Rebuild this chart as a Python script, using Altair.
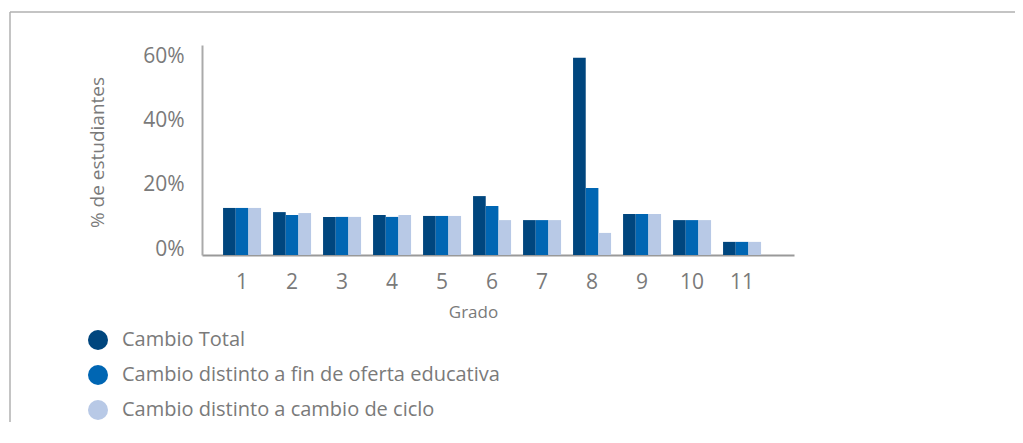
import altair as alt
import pandas as pd

grados = ["1", "2", "3", "4", "5", "6", "7", "8", "9", "10", "11"]
series = ["Cambio Total", "Cambio distinto a fin de oferta educativa", "Cambio distinto a cambio de ciclo"]
colores = ["#00467E", "#0066B3", "#B8C9E6"]
total = [14.7, 13.4, 11.9, 12.5, 12.2, 18.4, 10.9, 61.6, 12.8, 10.9, 4.1]
fin_oferta = [14.7, 12.5, 11.9, 11.9, 12.2, 15.3, 10.9, 20.9, 12.8, 10.9, 4.1]
cambio_ciclo = [14.7, 13.1, 11.9, 12.5, 12.2, 10.9, 10.9, 6.9, 12.8, 10.9, 4.1]

rows = []
for s, vals in zip(series, [total, fin_oferta, cambio_ciclo]):
    for g, v in zip(grados, vals):
        rows.append({"Grado": g, "Serie": s, "Valor": v / 100})
df = pd.DataFrame(rows)

FONT = "Open Sans"
GRAY = "#7a7a7a"

bars = alt.Chart(df).mark_bar().encode(
    x=alt.X("Grado:N", sort=grados,
            scale=alt.Scale(paddingInner=0.24, paddingOuter=0.54, align=0.39),
            axis=alt.Axis(title="Grado", labelAngle=0, ticks=False, tickSize=0,
                          labelFontSize=21, labelColor=GRAY, labelBaseline="middle",
                          labelPadding=27, labelFont=FONT,
                          domainColor="#999999", domainWidth=2,
                          titleFontSize=17, titleFontWeight="normal", titleColor=GRAY,
                          titleFont=FONT, titleX=271, titleY=57, titleAlign="center",
                          titleBaseline="middle")),
    xOffset=alt.XOffset("Serie:N", sort=series),
    y=alt.Y("Valor:Q",
            scale=alt.Scale(domain=[0, 0.656], nice=False),
            axis=alt.Axis(title="% de estudiantes", values=[0, 0.2, 0.4, 0.6], format=".0%",
                          ticks=False, tickSize=0, grid=False,
                          labelFontSize=21, labelColor=GRAY, labelPadding=18,
                          labelOffset=-6, labelFont=FONT,
                          domainColor="#aaaaaa", domainWidth=2,
                          titleFontSize=19, titleFontWeight="normal", titleColor=GRAY,
                          titleFont=FONT, titleAngle=270, titleX=-105, titleY=107,
                          titleAlign="center", titleBaseline="middle")),
    color=alt.Color("Serie:N", sort=series,
                    scale=alt.Scale(domain=series, range=colores),
                    legend=alt.Legend(title=None, orient="none", legendX=-114, legendY=285,
                                      symbolType="circle", symbolSize=400,
                                      symbolStrokeWidth=0, symbolOpacity=1,
                                      labelFontSize=20, labelColor=GRAY, labelFont=FONT,
                                      labelOffset=14, rowPadding=15, padding=0,
                                      labelLimit=700)),
)

one = pd.DataFrame({"k": [0]})
top_line = alt.Chart(one).mark_rule(color="#c4c4c4", strokeWidth=2).encode(
    x=alt.value(-192), x2=alt.value(820), y=alt.value(-33))
left_line = alt.Chart(one).mark_rule(color="#b0b0b0", strokeWidth=1.5).encode(
    x=alt.value(-192), y=alt.value(-33), y2=alt.value(380))

chart = alt.layer(top_line, left_line, bars).properties(
    width=592, height=210,
    padding={"left": 194, "top": 37, "right": 221, "bottom": 167},
    autosize=alt.AutoSizeParams(type="none"),
).configure(font=FONT).configure_view(strokeWidth=0)

chart.save("out.html", embed_options={"renderer": "svg", "actions": False})
